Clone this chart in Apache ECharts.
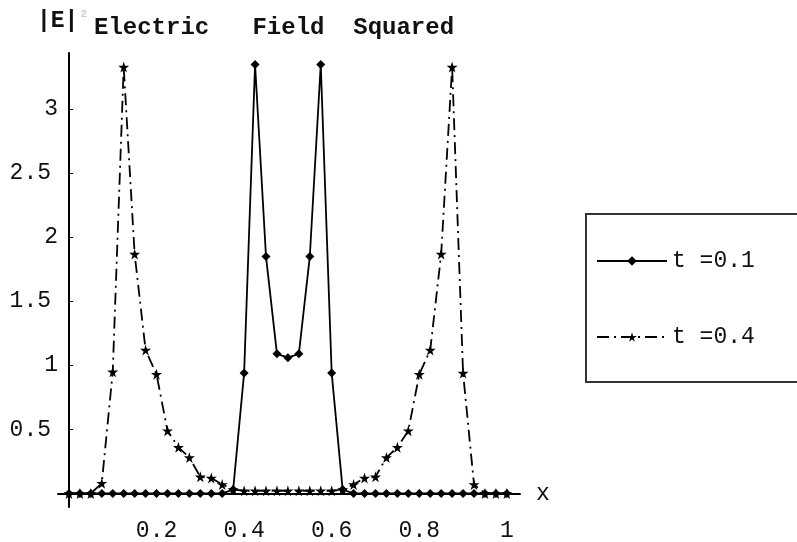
<!DOCTYPE html>
<html><head><meta charset="utf-8">
<script src="https://cdn.jsdelivr.net/npm/echarts@6/dist/echarts.min.js"></script>
<style>html,body{margin:0;padding:0;background:#fff}#c{width:797px;height:542px}</style>
</head><body><div id="c"></div>
<script>
const xValues = [0, 0.025, 0.05, 0.075, 0.1, 0.125, 0.15, 0.175, 0.2, 0.225, 0.25, 0.275, 0.3, 0.325, 0.35, 0.375, 0.4, 0.425, 0.45, 0.475, 0.5, 0.525, 0.55, 0.575, 0.6, 0.625, 0.65, 0.675, 0.7, 0.725, 0.75, 0.775, 0.8, 0.825, 0.85, 0.875, 0.9, 0.925, 0.95, 0.975, 1];
const seriesT01 = [0, 0, 0, 0, 0, 0, 0, 0, 0, 0, 0, 0, 0, 0, 0, 0.03, 0.94, 3.35, 1.85, 1.09, 1.06, 1.09, 1.85, 3.35, 0.94, 0.03, 0, 0, 0, 0, 0, 0, 0, 0, 0, 0, 0, 0, 0, 0, 0];
const seriesT04 = [0, 0, 0, 0.08, 0.95, 3.33, 1.87, 1.12, 0.93, 0.49, 0.36, 0.28, 0.13, 0.12, 0.07, 0.03, 0.02, 0.02, 0.02, 0.02, 0.02, 0.02, 0.02, 0.02, 0.02, 0.03, 0.07, 0.12, 0.13, 0.28, 0.36, 0.49, 0.93, 1.12, 1.87, 3.33, 0.94, 0.07, 0, 0, 0];
const seriesNames = ['t =0.1', 't =0.4'];
const xTickValues = [0.2, 0.4, 0.6, 0.8, 1];
const yTickValues = [0.5, 1, 1.5, 2, 2.5, 3];
const titleText = 'Electric   Field  Squared';
const yAxisLabelText = '|E|';
const yAxisLabelSup = '2';
const xAxisName = 'x';

const FONT = "'Liberation Mono', 'DejaVu Sans Mono', monospace";
const STAR = 'path://M50,0 L61,35 L98,35 L68,57 L79,91 L50,70 L21,91 L32,57 L2,35 L39,35 Z';

const chart = echarts.init(document.getElementById('c'), null, {renderer: 'canvas'});
chart.setOption({
  animation: false,
  backgroundColor: '#fff',
  title: [
    {
      text: '{a|' + yAxisLabelText + '}{b|' + yAxisLabelSup + '}',
      left: 37, top: 9, padding: 0,
      textStyle: {
        rich: {
          a: {fontFamily: FONT, fontSize: 23, color: '#111', fontWeight: 'bold', lineHeight: 24},
          b: {fontFamily: FONT, fontSize: 11, color: '#ccc', verticalAlign: 'top', lineHeight: 24, padding: [0, 0, 0, 2]}
        }
      }
    },
    {
      text: titleText,
      left: 94, top: 16, padding: 0,
      textStyle: {fontFamily: FONT, fontSize: 24, color: '#111', fontWeight: 'bold', lineHeight: 24}
    }
  ],
  legend: {
    orient: 'vertical',
    left: 586, top: 214,
    padding: [35, 45, 33, 10],
    itemWidth: 70, itemHeight: 12, itemGap: 52,
    borderColor: '#333', borderWidth: 2, borderRadius: 0,
    backgroundColor: '#fff',
    textStyle: {fontFamily: FONT, fontSize: 23, color: '#111', lineHeight: 24},
    data: seriesNames
  },
  grid: {left: 58, top: 53, right: 277, bottom: 22, containLabel: false},
  xAxis: {
    type: 'value',
    min: -0.025, max: 1.03,
    name: xAxisName,
    nameLocation: 'end', nameGap: 16,
    nameTextStyle: {fontFamily: FONT, fontSize: 23, color: '#111', verticalAlign: 'middle'},
    axisLine: {onZero: true, lineStyle: {color: '#000', width: 2}},
    axisTick: {show: true, inside: true, length: 4, customValues: xTickValues, lineStyle: {color: '#000'}},
    axisLabel: {customValues: xTickValues, fontFamily: FONT, fontSize: 23, color: '#111', margin: 12},
    splitLine: {show: false}
  },
  yAxis: {
    type: 'value',
    min: -0.106, max: 3.44,
    axisLine: {show: true, onZero: true, lineStyle: {color: '#000', width: 2}},
    axisTick: {show: true, inside: true, length: 4, customValues: yTickValues, lineStyle: {color: '#000'}},
    axisLabel: {
      customValues: yTickValues, margin: 0,
      formatter: v => (Number.isInteger(v) ? '{i|' + v + '}' : '{h|' + v + '}'),
      rich: {
        i: {fontFamily: FONT, fontSize: 23, color: '#111'},
        h: {fontFamily: FONT, fontSize: 23, color: '#111', padding: [0, 7, 0, 0]}
      }
    },
    splitLine: {show: false}
  },
  series: [
    {
      name: seriesNames[0],
      type: 'line',
      data: xValues.map((x, i) => [x, seriesT01[i]]),
      symbol: 'diamond', symbolSize: 9, showSymbol: true, showAllSymbol: true,
      lineStyle: {color: '#000', width: 1.8, type: 'solid'},
      itemStyle: {color: '#000'},
      z: 3
    },
    {
      name: seriesNames[1],
      type: 'line',
      data: xValues.map((x, i) => [x, seriesT04[i]]),
      symbol: STAR, symbolSize: 11, showSymbol: true, showAllSymbol: true,
      lineStyle: {color: '#000', width: 1.8, type: [12, 5, 2, 5]},
      itemStyle: {color: '#000'},
      z: 2
    }
  ]
});
</script>
</body></html>
